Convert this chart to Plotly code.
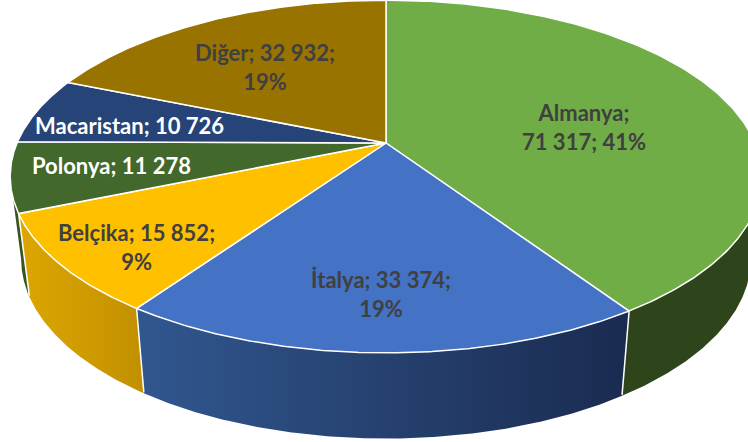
import numpy as np
import plotly.graph_objects as go

categories = ["Almanya", "İtalya", "Belçika", "Polonya", "Macaristan", "Diğer"]
values = [71317, 33374, 15852, 11278, 10726, 32932]
percents = [41, 19, 9, 6, 6, 19]

top_colors = ["#70ad47", "#4472c4", "#ffc000", "#43682b", "#264478", "#997300"]
side_left = ["#2e451c", "#31578f", "#dcA700", "#37561f", "#1c3359", "#735600"]
side_right = ["#2e451c", "#1a2b50", "#c29000", "#37561f", "#1c3359", "#735600"]
text_colors = ["#404040", "#404040", "#404040", "#ffffff", "#ffffff", "#404040"]
show_pct = [True, True, True, False, False, True]
break_after_name = [True, False, False, False, False, False]
label_xy = [(584, 127), (381, 294), (136, 247), (111, 165), (129, 125), (265, 67)]

# perspective projection of the pie disc
CX, CY, A, B, K = 386.0, 143.0, 369.0, 170.0, 0.19
SX, DY, SY = 0.971, 81.5, 1.02


def top_xy(theta):
    X, Y = np.sin(theta), np.cos(theta)
    w = 1 + K * Y
    return CX + A * X / w, CY - B * Y / w


def low_xy(theta):
    x, y = top_xy(theta)
    return CX + SX * (x - CX), CY + DY + SY * (y - CY)


fracs = np.cumsum([0] + values) / sum(values)
starts = 2 * np.pi * fracs[:-1]
ends = 2 * np.pi * fracs[1:]

# the disc's silhouette: side walls are only visible between these angles
right_sil = np.pi - np.arcsin(np.sqrt(1 - K * K))
left_sil = np.pi + np.arcsin(np.sqrt(1 - K * K))

fig = go.Figure()

for i in range(len(values)):
    a0, a1 = max(starts[i], right_sil), min(ends[i], left_sil)
    if a1 <= a0:
        continue
    t = np.linspace(a0, a1, 160)
    ux, uy = top_xy(t)
    lx, ly = low_xy(t)
    fig.add_trace(go.Scatter(
        x=np.r_[ux, lx[::-1], ux[0]], y=np.r_[uy, ly[::-1], uy[0]],
        mode="lines", fill="toself",
        line=dict(color="rgba(255,255,255,0)", width=0),
        fillgradient=dict(type="horizontal",
                          colorscale=[[0, side_left[i]], [1, side_right[i]]]),
        hoverinfo="skip", showlegend=False))

# white edges between the visible side walls
for th in ends:
    if right_sil < th < left_sil:
        ex0, ey0 = top_xy(th)
        ex1, ey1 = low_xy(th)
        fig.add_trace(go.Scatter(
            x=[ex0, ex1], y=[ey0, ey1 - 1], mode="lines",
            line=dict(color="white", width=1.5),
            hoverinfo="skip", showlegend=False))

# top slices
for i in range(len(values)):
    t = np.linspace(starts[i], ends[i], 200)
    ux, uy = top_xy(t)
    fig.add_trace(go.Scatter(
        x=np.r_[CX, ux, CX], y=np.r_[CY, uy, CY],
        mode="lines", fill="toself", fillcolor=top_colors[i],
        line=dict(color="white", width=1.5),
        hoverinfo="skip", showlegend=False))

annotations = []
for i, name in enumerate(categories):
    val = f"{values[i]:,}".replace(",", " ")
    if break_after_name[i]:
        txt = f"{name};<br>{val}; {percents[i]}%"
    elif show_pct[i]:
        txt = f"{name}; {val};<br>{percents[i]}%"
    else:
        txt = f"{name}; {val}"
    annotations.append(dict(
        x=label_xy[i][0], y=label_xy[i][1], xref="x", yref="y", text=f"<b>{txt}</b>",
        showarrow=False, align="center",
        font=dict(family="Lato, Open Sans, sans-serif", size=22, color=text_colors[i])))

fig.update_layout(
    width=748, height=442, margin=dict(l=0, r=0, t=0, b=0),
    paper_bgcolor="white", plot_bgcolor="white", showlegend=False,
    xaxis=dict(range=[0, 748], visible=False, fixedrange=True),
    yaxis=dict(range=[442, 0], visible=False, fixedrange=True),
    annotations=annotations)

fig.write_html("out.html", config={"displayModeBar": False},
               post_script="document.body.style.margin='0';document.body.style.overflow='hidden';")
